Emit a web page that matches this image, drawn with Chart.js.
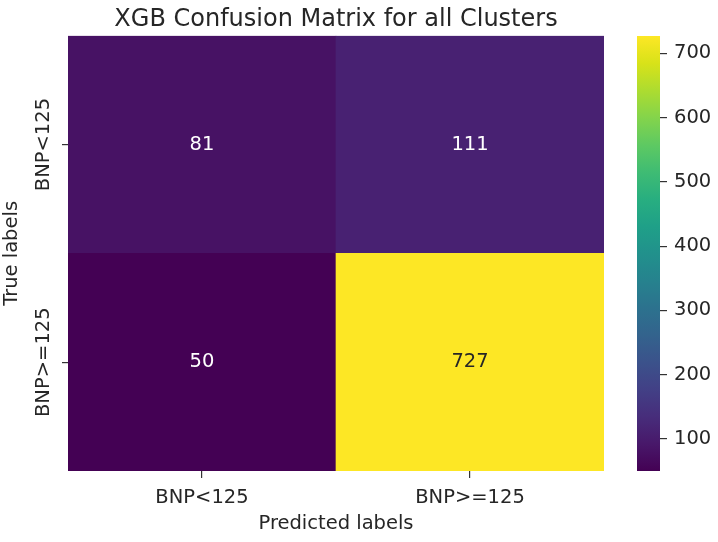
<!DOCTYPE html>
<html>
<head>
<meta charset="utf-8">
<script src="https://cdn.jsdelivr.net/npm/chart.js@4.4.0/dist/chart.umd.min.js"></script>
<style>
  body { margin: 0; background: #ffffff; }
  #wrap { position: relative; width: 718px; height: 542px; background: #ffffff; }
  #heatChart { position: absolute; left: 0; top: 0; }
  #barChart { position: absolute; left: 600px; top: 0; }
</style>
</head>
<body>
<div id="wrap">
  <canvas id="heatChart" width="672" height="542"></canvas>
  <canvas id="barChart" width="118" height="542"></canvas>
</div>
<script>
// confusion matrix data
var predLabels = ['BNP<125', 'BNP>=125'];
var trueLabels = ['BNP<125', 'BNP>=125'];
var rowLow = [81, 111];   // true BNP<125
var rowHigh = [50, 727];  // true BNP>=125
var colorbarTicks = [100, 200, 300, 400, 500, 600, 700];

var textColor = '#262626';
var fontFamily = 'DejaVu Sans';
var tickSize = 19.5;

// viridis, every 16th entry
var viridis = ['#440154', '#48186a', '#472d7b', '#424086', '#3b528b', '#33638d', '#2c728e', '#26828e',
    '#21918c', '#1fa088', '#28ae80', '#3fbc73', '#5ec962', '#84d44b', '#addc30', '#d8e219', '#fde725'];

var vmin = Math.min.apply(null, rowLow.concat(rowHigh));
var vmax = Math.max.apply(null, rowLow.concat(rowHigh));

function hexToRgb(h) {
    return [parseInt(h.substr(1, 2), 16), parseInt(h.substr(3, 2), 16), parseInt(h.substr(5, 2), 16)];
}

function cmap(v) {
    var t = (v - vmin) / (vmax - vmin);
    t = Math.max(0, Math.min(1, t));
    var pos = t * (viridis.length - 1);
    var i = Math.min(Math.floor(pos), viridis.length - 2);
    var f = pos - i;
    var a = hexToRgb(viridis[i]), b = hexToRgb(viridis[i + 1]);
    var c = a.map(function (x, k) { return Math.round(x + (b[k] - x) * f); });
    return 'rgb(' + c[0] + ',' + c[1] + ',' + c[2] + ')';
}

Chart.defaults.font.family = fontFamily;
Chart.defaults.color = textColor;

// writes the count in the middle of every cell
var cellText = {
    id: 'cellText',
    afterDatasetsDraw: function (chart) {
        var ctx = chart.ctx;
        ctx.save();
        ctx.font = tickSize + 'px ' + fontFamily;
        ctx.textAlign = 'center';
        ctx.textBaseline = 'middle';
        chart.data.datasets.forEach(function (ds, di) {
            chart.getDatasetMeta(di).data.forEach(function (el, i) {
                var v = ds.counts[i];
                ctx.fillStyle = (v - vmin) / (vmax - vmin) > 0.5 ? textColor : '#ffffff';
                ctx.fillText(String(v), el.x, (el.y + el.base) / 2);
            });
        });
        ctx.restore();
    }
};

// rotated y tick labels
var yLabels = {
    id: 'yLabels',
    afterDraw: function (chart) {
        var ctx = chart.ctx;
        var y = chart.scales.y;
        ctx.save();
        ctx.font = tickSize + 'px ' + fontFamily;
        ctx.fillStyle = textColor;
        ctx.textAlign = 'center';
        ctx.textBaseline = 'alphabetic';
        y.ticks.forEach(function (t) {
            ctx.save();
            ctx.translate(y.right - 19, y.getPixelForValue(t.value));
            ctx.rotate(-Math.PI / 2);
            ctx.fillText(t.label, 0, 0);
            ctx.restore();
        });
        ctx.restore();
    }
};

var heatChart = new Chart(document.getElementById('heatChart'), {
    type: 'bar',
    data: {
        labels: predLabels,
        datasets: [{
            label: trueLabels[1],
            data: rowHigh.map(function () { return 1; }),
            counts: rowHigh,
            backgroundColor: rowHigh.map(cmap),
            borderWidth: 0,
            barPercentage: 1,
            categoryPercentage: 1
        }, {
            label: trueLabels[0],
            data: rowLow.map(function () { return 1; }),
            counts: rowLow,
            backgroundColor: rowLow.map(cmap),
            borderWidth: 0,
            barPercentage: 1,
            categoryPercentage: 1
        }]
    },
    options: {
        responsive: false,
        animation: false,
        layout: { padding: 0 },
        plugins: {
            legend: { display: false },
            tooltip: { enabled: false },
            title: {
                display: true,
                text: 'XGB Confusion Matrix for all Clusters',
                color: textColor,
                font: { size: 24, weight: 'normal' },
                padding: { top: 5, bottom: 2 }
            }
        },
        scales: {
            x: {
                stacked: true,
                grid: { display: true, drawOnChartArea: false, drawTicks: true, tickLength: 7, offset: false, color: '#333333', lineWidth: 1.2 },
                border: { display: false },
                ticks: { color: textColor, font: { size: tickSize }, padding: 8, maxRotation: 0 },
                title: { display: true, text: 'Predicted labels', color: textColor, font: { size: tickSize }, padding: { top: 0, bottom: 6 } },
                afterFit: function (s) { s.height = 71; }
            },
            y: {
                stacked: true,
                min: 0,
                max: 2,
                afterBuildTicks: function (s) {
                    s.ticks = [{ value: 0.5 }, { value: 1.5 }];
                },
                grid: { display: true, drawOnChartArea: false, drawTicks: true, tickLength: 6, color: '#333333', lineWidth: 1.2 },
                border: { display: false },
                ticks: {
                    display: false,
                    callback: function (v) { return v > 1 ? trueLabels[0] : trueLabels[1]; }
                },
                title: { display: true, text: 'True labels', color: textColor, font: { size: tickSize }, padding: 0 },
                afterFit: function (s) { s.width = 68; }
            },
            // empty right axis so the title centres over the cells
            yRight: {
                position: 'right',
                display: true,
                grid: { display: false },
                ticks: { display: false },
                border: { display: false },
                afterFit: function (s) { s.width = 68; }
            }
        }
    },
    plugins: [cellText, yLabels]
});

// colour bar
var barChart = new Chart(document.getElementById('barChart'), {
    type: 'bar',
    data: {
        labels: [''],
        datasets: [{
            data: [[vmin, vmax]],
            borderWidth: 0,
            borderSkipped: false,
            barPercentage: 1,
            categoryPercentage: 1,
            backgroundColor: function (c) {
                var area = c.chart.chartArea;
                if (!area) return viridis[0];
                var g = c.chart.ctx.createLinearGradient(0, area.bottom, 0, area.top);
                viridis.forEach(function (col, i) { g.addColorStop(i / (viridis.length - 1), col); });
                return g;
            }
        }]
    },
    options: {
        responsive: false,
        animation: false,
        layout: { padding: { left: 37, right: 0, top: 36, bottom: 71 } },
        plugins: { legend: { display: false }, tooltip: { enabled: false } },
        scales: {
            x: { display: false },
            y: {
                position: 'right',
                min: vmin,
                max: vmax,
                afterBuildTicks: function (s) {
                    s.ticks = colorbarTicks.map(function (v) { return { value: v }; });
                },
                grid: { display: true, drawOnChartArea: false, drawTicks: true, tickLength: 7, color: '#333333', lineWidth: 1.2 },
                border: { display: false },
                ticks: { color: textColor, font: { size: tickSize }, padding: 7 },
                afterFit: function (s) { s.width = 58; }
            }
        }
    }
});
</script>
</body>
</html>
